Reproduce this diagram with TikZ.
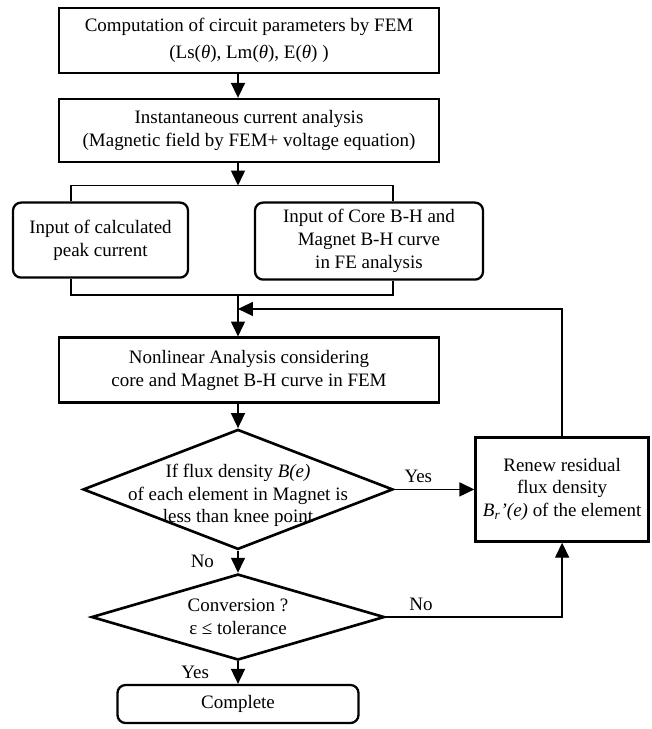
\documentclass[tikz,border=0pt]{standalone}
\usepackage{fontspec}
\setmainfont{Liberation Serif}
\usepackage{tikz}
\usetikzlibrary{shapes.geometric, arrows.meta, positioning}
\tikzset{
  procbox/.style={rectangle, draw=black, line width=1.5pt, minimum width=7.6cm,
    align=center, inner sep=2pt},
  inputbox/.style={rectangle, rounded corners=0.16cm, draw=black, line width=1.3pt,
    align=center, inner sep=2pt},
  decision/.style={diamond, draw=black, line width=1.5pt, inner sep=0pt},
  arrow/.style={-{Triangle[length=8.5pt, width=8pt]}, line width=0.75pt},
  link/.style={line width=0.75pt}
}

\begin{document}
\begin{tikzpicture}[font=\fontsize{10.8}{13}\selectfont]
    \useasboundingbox (0,0) rectangle (13.02,-14.58);
    \node[procbox, minimum height=1.30cm] (comp) at (4.98,-0.81)
      {Computation of circuit parameters by FEM\\[2pt]
       (Ls(\textit{θ}), Lm(\textit{θ}), E(\textit{θ}) )};
    \node[procbox, minimum height=1.26cm, below=0.47cm of comp] (inst)
      {Instantaneous current analysis\\(Magnetic field by FEM+ voltage equation)};
    \coordinate[below=0.44cm of inst, xshift=-0.22cm] (split);
    \node[inputbox, minimum width=3.5cm, minimum height=1.5cm,
      below=0.76cm of inst, xshift=-2.97cm] (peak)
      {Input of calculated\\peak current};
    \node[inputbox, minimum width=4.56cm, minimum height=1.54cm,
      below=0.76cm of inst, xshift=2.40cm] (bhcurve)
      {Input of Core B-H and\\Magnet B-H curve\\in FE analysis};
    \coordinate[below=2.63cm of inst, xshift=-0.22cm] (join);
    \coordinate[below=0.28cm of join] (fb);
    \node[procbox, minimum height=1.30cm, below=3.46cm of inst] (nonlin)
      {Nonlinear Analysis considering\\core and Magnet B-H curve in FEM};
    \node[decision, minimum width=6.2cm, minimum height=2.4cm,
      below=0.48cm of nonlin, xshift=-0.22cm,
      label={[align=center, yshift=-0.12cm]center:{If flux density \textit{B(e)}\\
        of each element in Magnet is\\less than knee point}}] (check1) {};
    \node[procbox, minimum width=3.46cm, minimum height=2.08cm,
      right=1.6cm of check1] (renew)
      {Renew residual\\flux density\\\textit{B\textsubscript{r}’(e)} of the element};
    \node[decision, minimum width=5.86cm, minimum height=1.72cm,
      below=0.44cm of check1,
      label={[align=center]center:{Conversion ?\\ε ≤ tolerance}}] (check2) {};
    \node[inputbox, minimum width=4.82cm, minimum height=0.76cm,
      below=0.45cm of check2] (done) {Complete};
    \draw[arrow] (comp.south -| split) -- (inst.north -| split);
    \draw[arrow] (inst.south -| split) -- (split);
    \draw[link] ([xshift=-0.59cm]peak.north) |- (split)
      -| ([xshift=0.48cm]bhcurve.north);
    \draw[link] ([xshift=-0.59cm]peak.south) |- (join)
      -| ([xshift=0.48cm]bhcurve.south);
    \draw[arrow] (join) -- (join |- nonlin.north);
    \draw[arrow] (renew.north) |- (fb);
    \draw[arrow] (nonlin.south -| check1) -- (check1.north);
    \draw[arrow] (check1.east) -- node[above, pos=0.3] {Yes} (renew.west);
    \draw[arrow] (check1.south) -- node[left=0.35cm] {No} (check2.north);
    \draw[arrow] (check2.east) -| node[above, pos=0.1] {No} (renew.south);
    \draw[arrow] (check2.south) -- node[left=0.45cm] {Yes} (done.north);
  \end{tikzpicture}
\end{document}
